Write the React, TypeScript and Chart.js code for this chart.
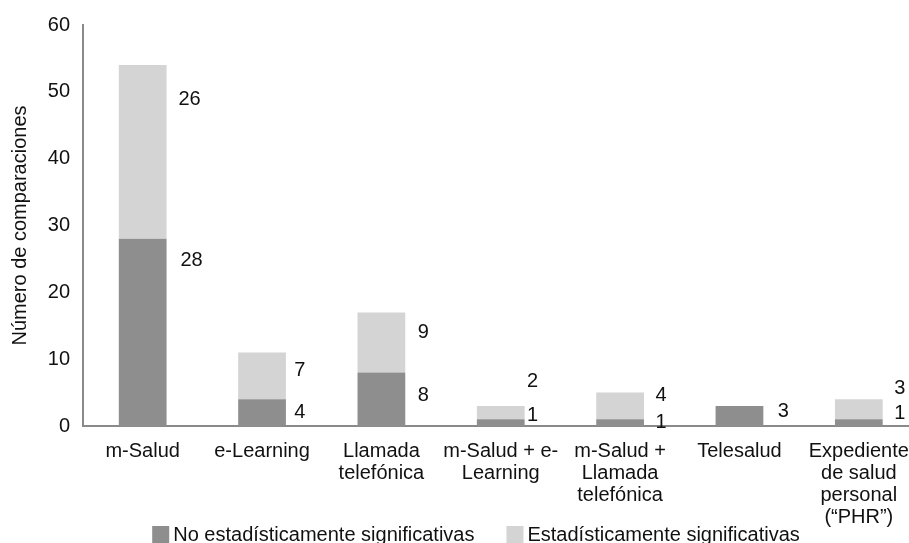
import { useEffect, useRef } from "react";
import { Chart, registerables } from "chart.js";

Chart.register(...registerables);

// ---- Data ----
const categories: string[][] = [
  ["m-Salud"],
  ["e-Learning"],
  ["Llamada", "telefónica"],
  ["m-Salud + e-", "Learning"],
  ["m-Salud +", "Llamada", "telefónica"],
  ["Telesalud"],
  ["Expediente", "de salud", "personal", "(“PHR”)"],
];
const seriesNames = ["No estadísticamente significativas", "Estadísticamente significativas"];
const noSignificativas = [28, 4, 8, 1, 1, 3, 1];
const significativas = [26, 7, 9, 2, 4, 0, 3];
const yMin = 0;
const yMax = 60;
const yStep = 10;
const yTitle = "Número de comparaciones";

// ---- Label placement (px offsets from bar right edge / segment top) ----
const labelDxNo = [25, 14, 18, 8, 17, 20, 17];
const labelDyNo = [22, 13, 23, -4, 3, 6, -6];
const labelDxSig = [23, 14, 18, 8, 17, 0, 17];
const labelDySig = [34, 18, 20, -24, 3, 0, -11];

const FONT = '"Liberation Sans", Arial, Helvetica, sans-serif';
const TEXT = "#111111";
const DARK = "#8e8e8e";
const LIGHT = "#d4d4d4";
const AXIS = "#8a8a8a";

// legend styling
const LEG_BOX = 17;
const LEG_GAP = 4;
const LEG_SPACING = 32;
const LEG_CENTER_Y = 535;

const valueLabels = {
  id: "valueLabels",
  afterDatasetsDraw(chart: any) {
    const ctx = chart.ctx;
    ctx.save();
    ctx.font = `20px ${FONT}`;
    ctx.fillStyle = TEXT;
    ctx.textAlign = "center";
    ctx.textBaseline = "middle";
    const sets = [
      { data: noSignificativas, dx: labelDxNo, dy: labelDyNo },
      { data: significativas, dx: labelDxSig, dy: labelDySig },
    ];
    sets.forEach((s, di) => {
      const meta = chart.getDatasetMeta(di);
      meta.data.forEach((el: any, i: number) => {
        const v = s.data[i];
        if (!v) return;
        const p = el.getProps(["x", "y", "width"], true);
        ctx.fillText(String(v), p.x + p.width / 2 + s.dx[i], p.y + s.dy[i]);
      });
    });
    ctx.restore();
  },
};

const bottomLegend = {
  id: "bottomLegend",
  afterDraw(chart: any) {
    const ctx = chart.ctx;
    ctx.save();
    ctx.font = `20px ${FONT}`;
    ctx.textAlign = "left";
    ctx.textBaseline = "middle";
    const items = chart.data.datasets.map((d: any) => ({ text: d.label as string, color: d.backgroundColor as string }));
    const widths = items.map((it: any) => LEG_BOX + LEG_GAP + ctx.measureText(it.text).width);
    const total = widths.reduce((a: number, b: number) => a + b, 0) + LEG_SPACING * (items.length - 1);
    let x = chart.width / 2 - total / 2;
    items.forEach((it: any, i: number) => {
      ctx.fillStyle = it.color;
      ctx.fillRect(x, LEG_CENTER_Y - 9, LEG_BOX, LEG_BOX);
      ctx.fillStyle = TEXT;
      ctx.fillText(it.text, x + LEG_BOX + LEG_GAP, LEG_CENTER_Y);
      x += widths[i] + LEG_SPACING;
    });
    ctx.restore();
  },
};

export default function App() {
  const ref = useRef<HTMLCanvasElement | null>(null);

  useEffect(() => {
    if (!ref.current) return;
    Chart.defaults.font.family = FONT;
    const chart = new Chart(ref.current, {
      type: "bar",
      data: {
        labels: categories as any,
        datasets: [
          {
            label: seriesNames[0],
            data: noSignificativas,
            backgroundColor: DARK,
            borderWidth: 0,
            categoryPercentage: 1,
            barPercentage: 0.4,
          },
          {
            label: seriesNames[1],
            data: significativas,
            backgroundColor: LIGHT,
            borderWidth: 0,
            categoryPercentage: 1,
            barPercentage: 0.4,
          },
        ],
      },
      options: {
        responsive: false,
        animation: false,
        devicePixelRatio: 1,
        layout: { padding: { top: 21, bottom: 0, left: 0, right: 0 } },
        plugins: {
          tooltip: { enabled: false },
          legend: { display: false },
        },
        scales: {
          x: {
            stacked: true,
            grid: { display: false, drawTicks: false },
            border: { display: true, color: AXIS, width: 2 },
            ticks: {
              color: TEXT,
              font: { size: 20, family: FONT, lineHeight: 1.1 },
              maxRotation: 0,
              autoSkip: false,
              padding: 14,
            },
            afterFit: (s: any) => {
              s.height = 134;
            },
          },
          y: {
            stacked: true,
            min: yMin,
            max: yMax,
            grid: { display: false, drawTicks: false },
            border: { display: true, color: AXIS, width: 2 },
            ticks: {
              stepSize: yStep,
              color: TEXT,
              font: { size: 20, family: FONT },
              padding: 13,
            },
            title: {
              display: true,
              text: yTitle,
              color: TEXT,
              font: { size: 20, family: FONT, lineHeight: 1.2 },
              padding: { top: 8, bottom: 0 },
            },
            afterFit: (s: any) => {
              s.width = 83;
            },
          },
          yr: {
            type: "linear",
            position: "right",
            display: true,
            grid: { display: false, drawTicks: false },
            border: { display: false },
            ticks: { display: false },
            afterFit: (s: any) => {
              s.width = 33.5;
            },
          },
        },
      },
      plugins: [valueLabels, bottomLegend],
    });
    return () => chart.destroy();
  }, []);

  return (
    <div
      style={{
        position: "fixed",
        left: 0,
        top: 0,
        width: 909,
        height: 543,
        overflow: "hidden",
        background: "#ffffff",
      }}
    >
      <canvas ref={ref} width={952} height={560} style={{ width: 952, height: 560, display: "block" }} />
    </div>
  );
}
